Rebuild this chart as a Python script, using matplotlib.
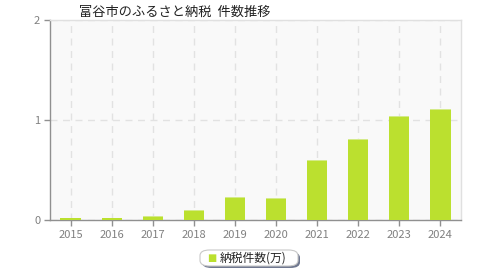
import matplotlib.pyplot as plt
from matplotlib.patches import FancyBboxPatch

plt.rcParams['font.family'] = ['Noto Sans CJK JP', 'DejaVu Sans']

years = ['2015', '2016', '2017', '2018', '2019', '2020', '2021', '2022', '2023', '2024']
counts = [0.02, 0.02, 0.04, 0.10, 0.23, 0.22, 0.60, 0.81, 1.04, 1.11]

title = '富谷市のふるさと納税  件数推移'
series_name = '納税件数(万)'
bar_color = '#bbe02f'

fig = plt.figure(figsize=(4.8, 2.8), dpi=100)
ax = fig.add_axes([50 / 480, 60 / 280, 411 / 480, 200 / 280])
ax.set_facecolor('#f9f9f9')

x = list(range(len(years)))
ax.bar(x, counts, width=0.49, color=bar_color, zorder=3)
# light highlight on bar tops
hl = [0.012 if c > 0.03 else 0 for c in counts]
ax.bar(x, hl, bottom=[c - h for c, h in zip(counts, hl)], width=0.49,
       color='#d4ea8a', zorder=4)

ax.set_xlim(-0.5, len(years) - 0.5)
ax.set_ylim(0, 2)
ax.set_xticks(x)
ax.set_xticklabels(years)
ax.set_yticks([0, 1, 2])

ax.grid(True, axis='both', color='#e2e2e2', linestyle=(0, (5, 4)), linewidth=1, zorder=0)

for s in ['top', 'right']:
    ax.spines[s].set_color('#e0e0e0')
    ax.spines[s].set_linewidth(1)
for s in ['left', 'bottom']:
    ax.spines[s].set_color('#909090')
    ax.spines[s].set_linewidth(1)

ax.tick_params(axis='both', colors='#909090', labelcolor='#808080', labelsize=8,
               length=4, width=1)
ax.tick_params(axis='x', pad=3)
ax.tick_params(axis='y', pad=3)

fig.text(175 / 480, 1 - 12 / 280, title, ha='center', va='center', fontsize=9.5, color='#222222')

# legend box
shadow = FancyBboxPatch((202 / 480, 1 - 268 / 280), 98 / 480, 16 / 280,
                        boxstyle='round,pad=0,rounding_size=0.02',
                        transform=fig.transFigure, facecolor='#707890', edgecolor='none')
box = FancyBboxPatch((200 / 480, 1 - 266 / 280), 98 / 480, 16 / 280,
                     boxstyle='round,pad=0,rounding_size=0.02',
                     transform=fig.transFigure, facecolor='white', edgecolor='#c8c8c8', linewidth=0.8)
fig.patches.extend([shadow, box])
fig.text(212 / 480, 1 - 258 / 280, '■', ha='center', va='center', fontsize=7, color=bar_color,
         family=['DejaVu Sans'])
fig.text(220 / 480, 1 - 258 / 280, series_name, ha='left', va='center', fontsize=8.5, color='#222222')

fig.savefig('out.png', dpi=100)
